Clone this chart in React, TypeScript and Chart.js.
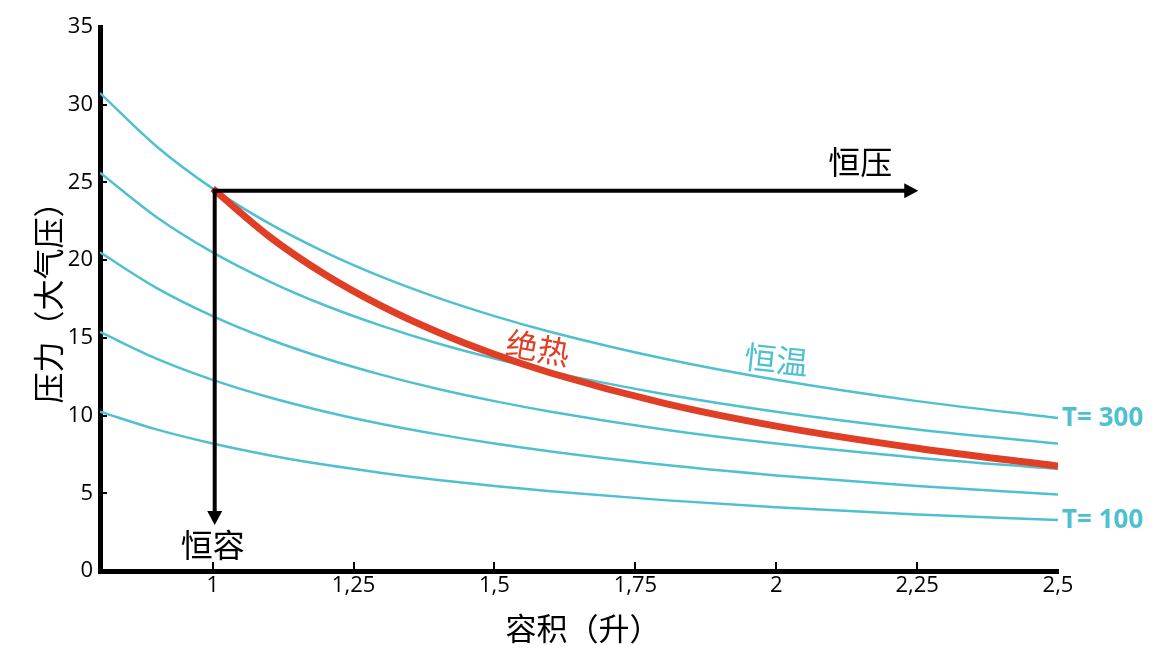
import React, { useEffect, useRef } from "react";
import { Chart, registerables } from "chart.js";

Chart.register(...registerables);

// Isotherm sample volumes (L) and pressures (atm)
const volumes = [0.8, 0.9, 1.0, 1.1, 1.2, 1.3, 1.4, 1.5, 1.6, 1.8, 2.0, 2.25, 2.5];
const isoT300 = [30.75, 27.33, 24.6, 22.36, 20.5, 18.92, 17.57, 16.4, 15.38, 13.67, 12.3, 10.93, 9.84];
const isoT250 = [25.63, 22.78, 20.5, 18.64, 17.08, 15.77, 14.64, 13.67, 12.81, 11.39, 10.25, 9.11, 8.2];
const isoT200 = [20.5, 18.22, 16.4, 14.91, 13.67, 12.62, 11.71, 10.93, 10.25, 9.11, 8.2, 7.29, 6.56];
const isoT150 = [15.38, 13.67, 12.3, 11.18, 10.25, 9.46, 8.79, 8.2, 7.69, 6.83, 6.15, 5.47, 4.92];
const isoT100 = [10.25, 9.11, 8.2, 7.45, 6.83, 6.31, 5.86, 5.47, 5.13, 4.56, 4.1, 3.64, 3.28];

// Adiabat
const adiabatVolumes = [1.0, 1.1, 1.2, 1.3, 1.4, 1.5, 1.6, 1.8, 2.0, 2.25, 2.5];
const adiabatPressures = [24.6, 21.53, 19.06, 17.04, 15.36, 13.94, 12.74, 10.8, 9.32, 7.9, 6.76];

// Arrows (isobaric and isochoric)
const isobarArrowV = [1, 2.252];
const isobarArrowP = [24.6, 24.6];
const isochoreArrowV = [1, 1];
const isochoreArrowP = [24.6, 2.96];

// Ticks
const xTicks = [1, 1.25, 1.5, 1.75, 2, 2.25, 2.5];
const xTickLabels = ["1", "1,25", "1,5", "1,75", "2", "2,25", "2,5"];
const yTicks = [0, 5, 10, 15, 20, 25, 30, 35];

// Text labels
const xTitle = "容积（升）";
const yTitle = "压力（大气压）";
const labelIsobar = "恒压";
const labelIsochore = "恒容";
const labelAdiabat = "绝热";
const labelIsotherm = "恒温";
const labelTHigh = "T= 300";
const labelTLow = "T= 100";

const TEAL = "#4fc0d0";
const RED = "#e03f26";
const CJK = '"Noto Sans CJK SC", "Noto Sans", sans-serif';
const LATIN = '"Open Sans", "Noto Sans", sans-serif';

const toPts = (xs: number[], ys: number[]) => xs.map((x, i) => ({ x, y: ys[i] }));

const overlayPlugin = {
  id: "overlay",
  afterDatasetsDraw(chart: any) {
    const { ctx, chartArea } = chart;
    const xs = chart.scales.x;
    const ys = chart.scales.y;
    ctx.save();

    // inner tick marks
    ctx.strokeStyle = "#000";
    ctx.lineWidth = 2;
    yTicks.forEach((v) => {
      if (v === 0 || v === 35) return;
      const py = Math.round(ys.getPixelForValue(v));
      ctx.beginPath();
      ctx.moveTo(chartArea.left, py);
      ctx.lineTo(chartArea.left + 7, py);
      ctx.stroke();
    });
    xTicks.forEach((v) => {
      if (v === 2.5) return;
      const px = Math.round(xs.getPixelForValue(v));
      ctx.beginPath();
      ctx.moveTo(px, chartArea.bottom);
      ctx.lineTo(px, chartArea.bottom - 9);
      ctx.stroke();
    });

    // arrows
    const drawArrow = (vx: number[], vy: number[]) => {
      const x0 = xs.getPixelForValue(vx[0]);
      const y0 = ys.getPixelForValue(vy[0]);
      const x1 = xs.getPixelForValue(vx[1]);
      const y1 = ys.getPixelForValue(vy[1]);
      const ang = Math.atan2(y1 - y0, x1 - x0);
      const headLen = 14;
      const headHalf = 7.5;
      const vert = vx[0] === vx[1];
      ctx.strokeStyle = "#000";
      ctx.fillStyle = "#000";
      ctx.lineWidth = 4;
      ctx.lineCap = "square";
      ctx.beginPath();
      ctx.moveTo(x0 + 2, y0 + 2);
      ctx.lineTo(
        x1 - Math.cos(ang) * (headLen - 1) + (vert ? 2 : 0),
        y1 - Math.sin(ang) * (headLen - 1) + (vert ? 0 : 2)
      );
      ctx.stroke();
      const tx = x1 + (vert ? 2 : 0);
      const ty = y1 + (vert ? 0 : 2);
      const bx = tx - Math.cos(ang) * headLen;
      const by = ty - Math.sin(ang) * headLen;
      ctx.beginPath();
      ctx.moveTo(tx, ty);
      ctx.lineTo(bx + Math.sin(ang) * headHalf, by - Math.cos(ang) * headHalf);
      ctx.lineTo(bx - Math.sin(ang) * headHalf, by + Math.cos(ang) * headHalf);
      ctx.closePath();
      ctx.fill();
    };
    drawArrow(isobarArrowV, isobarArrowP);
    drawArrow(isochoreArrowV, isochoreArrowP);

    const text = (
      s: string,
      vx: number,
      vy: number,
      color: string,
      font: string,
      rot = 0,
      align: CanvasTextAlign = "center"
    ) => {
      const px = xs.getPixelForValue(vx);
      const py = ys.getPixelForValue(vy);
      ctx.save();
      ctx.translate(px, py);
      ctx.rotate((rot * Math.PI) / 180);
      ctx.fillStyle = color;
      ctx.font = font;
      ctx.textAlign = align;
      ctx.textBaseline = "middle";
      ctx.fillText(s, 0, 0);
      ctx.restore();
    };
    text(labelIsobar, 2.149, 26.3, "#000", `32px ${CJK}`);
    text(labelIsochore, 1.0, 1.7, "#000", `32px ${CJK}`);
    text(labelAdiabat, 1.577, 14.35, RED, `32px ${CJK}`, 10);
    text(labelIsotherm, 2.0, 13.6, TEAL, `32px ${CJK}`, 6);

    // end labels for isotherms
    ctx.fillStyle = TEAL;
    ctx.font = `bold 26px ${LATIN}`;
    ctx.textAlign = "left";
    ctx.textBaseline = "middle";
    ctx.fillText(labelTHigh, chartArea.right + 4, ys.getPixelForValue(isoT300[isoT300.length - 1]) + 1);
    ctx.fillText(labelTLow, chartArea.right + 4, ys.getPixelForValue(isoT100[isoT100.length - 1]) + 1);

    // axis titles
    ctx.fillStyle = "#000";
    ctx.font = `31px ${CJK}`;
    ctx.textAlign = "center";
    ctx.textBaseline = "middle";
    ctx.fillText(xTitle, (chartArea.left + chartArea.right) / 2 + 4, 628);
    ctx.save();
    ctx.translate(48, 295);
    ctx.rotate(-Math.PI / 2);
    ctx.fillText(yTitle, 0, 0);
    ctx.restore();

    ctx.restore();
  },
};

export default function App() {
  const canvasRef = useRef<HTMLCanvasElement | null>(null);

  useEffect(() => {
    if (!canvasRef.current) return;
    const isoStyle = {
      borderColor: TEAL,
      borderWidth: 2.5,
      pointRadius: 0,
      fill: false,
      cubicInterpolationMode: "monotone" as const,
    };
    const chart = new Chart(canvasRef.current, {
      type: "line",
      data: {
        datasets: [
          {
            label: "绝热",
            data: toPts(adiabatVolumes, adiabatPressures),
            borderColor: RED,
            borderWidth: 7,
            pointRadius: 0,
            fill: false,
            cubicInterpolationMode: "monotone",
          },
          { label: "T=300", data: toPts(volumes, isoT300), ...isoStyle },
          { label: "T=250", data: toPts(volumes, isoT250), ...isoStyle },
          { label: "T=200", data: toPts(volumes, isoT200), ...isoStyle },
          { label: "T=150", data: toPts(volumes, isoT150), ...isoStyle },
          { label: "T=100", data: toPts(volumes, isoT100), ...isoStyle },
        ],
      },
      options: {
        animation: false,
        responsive: true,
        maintainAspectRatio: false,
        layout: { padding: { top: 27, right: 99, left: 0, bottom: 0 } },
        plugins: { legend: { display: false }, tooltip: { enabled: false } },
        scales: {
          x: {
            type: "linear",
            min: 0.8,
            max: 2.5,
            afterBuildTicks: (scale: any) => {
              scale.ticks = xTicks.map((v) => ({ value: v }));
            },
            afterFit: (scale: any) => {
              scale.height = 84;
            },
            ticks: {
              callback: (v: any) => {
                const i = xTicks.indexOf(Number(v));
                return i >= 0 ? xTickLabels[i] : "";
              },
              font: { family: '"Open Sans", "Noto Sans", sans-serif', size: 22 },
              color: "#000",
              padding: 2,
              maxRotation: 0,
              autoSkip: false,
            },
            grid: { display: false, drawTicks: false },
            border: { display: true, color: "#000", width: 5 },
          },
          y: {
            type: "linear",
            min: 0,
            max: 35,
            afterBuildTicks: (scale: any) => {
              scale.ticks = yTicks.map((v) => ({ value: v }));
            },
            afterFit: (scale: any) => {
              scale.width = 100;
            },
            ticks: {
              font: { family: '"Open Sans", "Noto Sans", sans-serif', size: 22 },
              color: "#000",
              padding: 7,
            },
            grid: { display: false, drawTicks: false },
            border: { display: true, color: "#000", width: 5 },
          },
        },
      },
      plugins: [overlayPlugin],
    });
    return () => chart.destroy();
  }, []);

  return (
    <div style={{ position: "absolute", left: 0, top: 0, width: 1157, height: 655, background: "#fff" }}>
      <canvas ref={canvasRef} />
    </div>
  );
}
